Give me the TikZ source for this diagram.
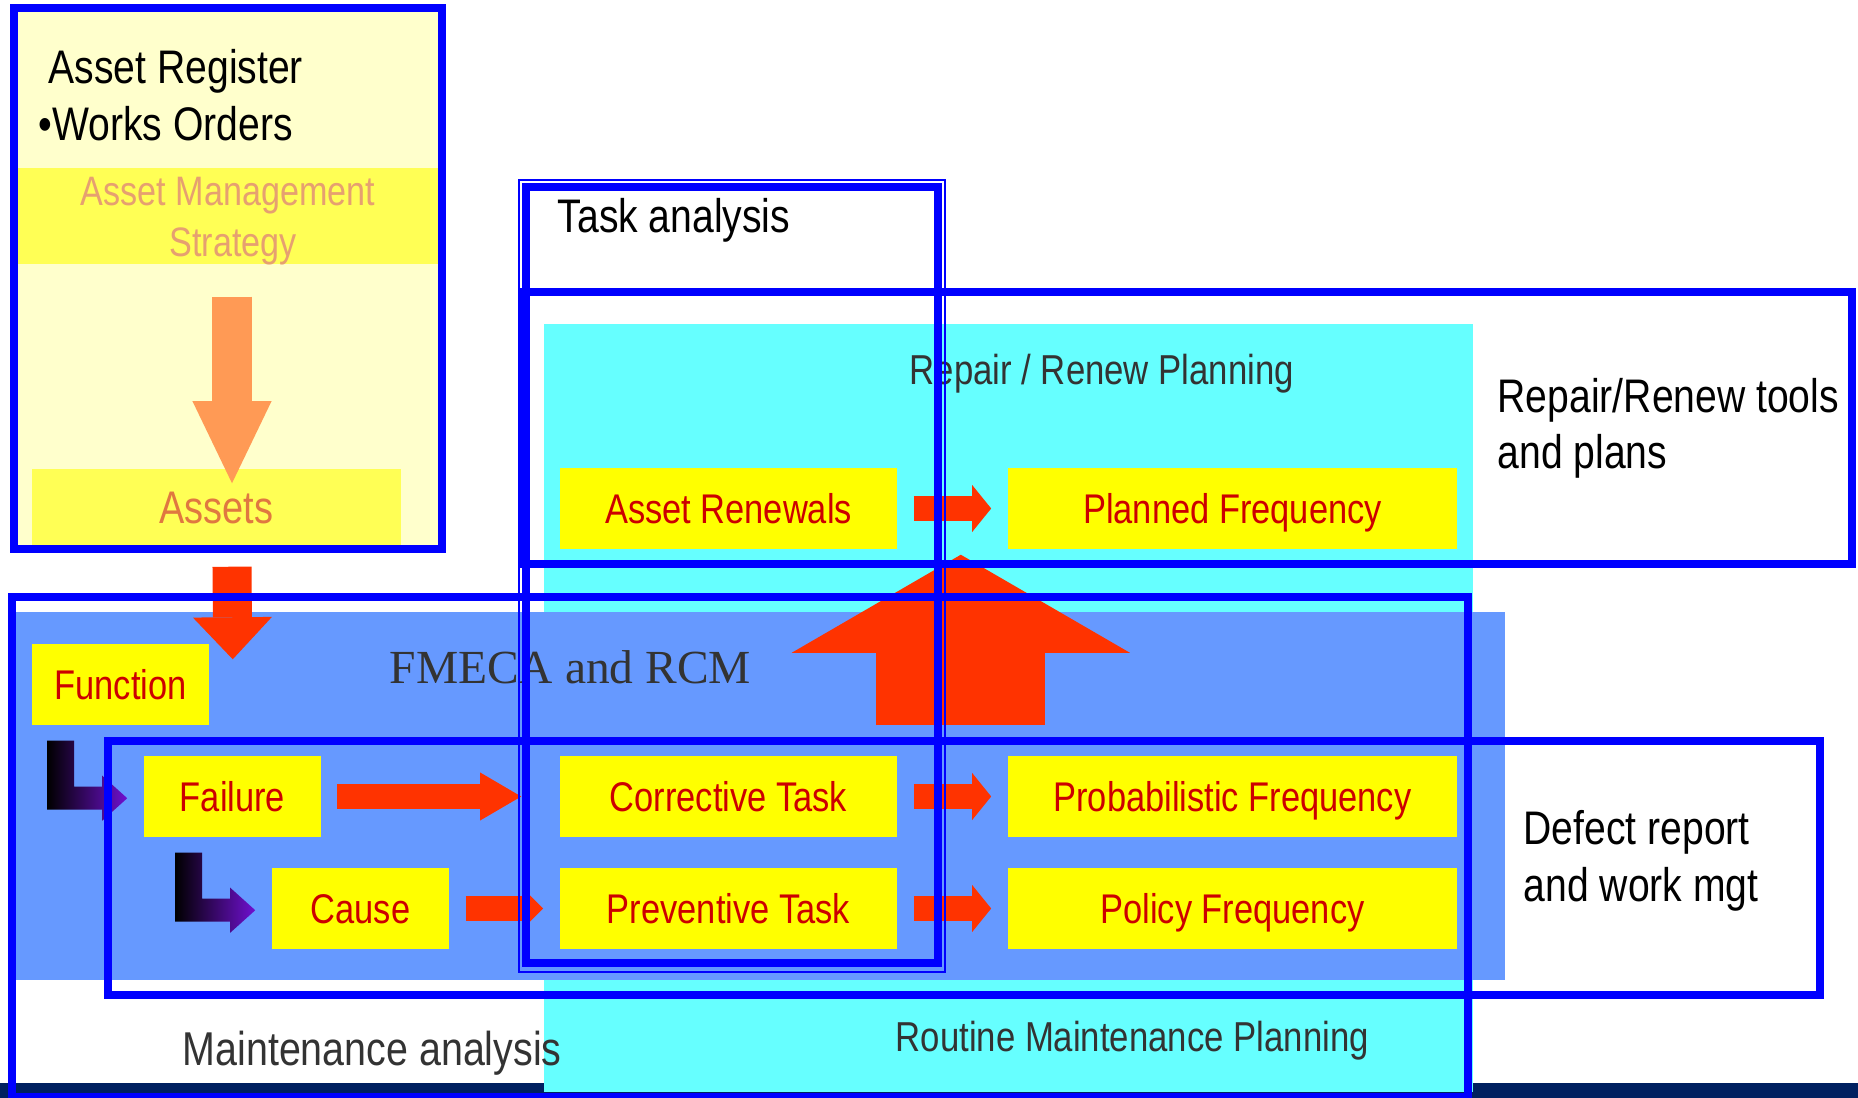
\documentclass[tikz,border=0pt]{standalone}
\usepackage{fontspec}
\setmainfont{Liberation Sans}
\newfontfamily\narrowsans[FakeStretch=0.83]{Liberation Sans}
\newfontfamily\serifface{Liberation Serif}
\usetikzlibrary{arrows.meta,calc}

\definecolor{lineblue}{HTML}{0000FF}
\definecolor{paleyellow}{HTML}{FFFFCC}
\definecolor{bandyellow}{HTML}{FFFF55}
\definecolor{cellyellow}{HTML}{FFFF00}
\definecolor{cellred}{HTML}{CC0000}
\definecolor{plancyan}{HTML}{66FFFF}
\definecolor{fmecablue}{HTML}{6699FF}
\definecolor{arrowred}{HTML}{FF3300}
\definecolor{arroworange}{HTML}{FF9A55}
\definecolor{strategytan}{HTML}{E6A070}
\definecolor{assetsorange}{HTML}{E07840}
\definecolor{textgray}{HTML}{333333}
\definecolor{navybar}{HTML}{002060}
\definecolor{turnblue}{HTML}{1818B0}
\definecolor{turnpurple}{HTML}{7010D0}

\begin{document}
\begin{tikzpicture}
    [ x=0.01cm, y=-0.01cm
    , every node/.style={inner sep=0pt}
    , frame/.style={draw=lineblue, line width=0.08cm}
    , thinframe/.style={draw=lineblue, line width=0.025cm}
    , cell/.style={fill=cellyellow, text=cellred, minimum height=0.81cm, text height=8.4pt, text depth=0pt, font=\narrowsans\fontsize{11.8pt}{14pt}\selectfont}
    , narrowcell/.style={cell, minimum width=1.77cm}
    , midcell/.style={cell, minimum width=3.37cm}
    , widecell/.style={cell, minimum width=4.49cm}
    , band/.style={fill=bandyellow}
    , heading/.style={anchor=base west, font=\narrowsans\fontsize{13.4pt}{16pt}\selectfont}
    , planlabel/.style={anchor=base west, text=textgray, font=\narrowsans\fontsize{11.9pt}{14pt}\selectfont}
    , strategy/.style={anchor=base, text=strategytan, font=\narrowsans\fontsize{11.7pt}{14pt}\selectfont}
    , redarrow/.style={draw=arrowred, line width=0.24cm}
    , turnarrow/.pic={\shade[left color=black, middle color=turnblue, right color=turnpurple]
        (0,0) -- (27,0) -- (27,46) -- (55,46) -- (55,35) -- (80,57.5) -- (55,80) -- (55,69) -- (0,69) -- cycle;}
    ]

    \useasboundingbox (0,0) rectangle (1858,1098);

    % backgrounds
    \fill[navybar] (0,1083) rectangle (1858,1098);
    \fill[paleyellow] (14,8) rectangle (442,549);
    \node[band, minimum width=4.2cm, minimum height=0.96cm] (ams) at (228,216) {};
    \node[band, minimum width=3.69cm, minimum height=0.77cm, text=assetsorange, text height=9.3pt, text depth=0pt,
          font=\narrowsans\fontsize{13pt}{15pt}\selectfont] (assets) at (216.5,507.5) {Assets};
    \fill[plancyan] (544,324) rectangle (1473,1092);
    \fill[fmecablue] (16,612) rectangle (1505,980);

    % cells
    \node[narrowcell] (fn)    at (120.5,684.5)  {Function};
    \node[narrowcell] (fail)  at (232.5,796.5)  {Failure};
    \node[narrowcell] (cause) at (360.5,908.5)  {Cause};
    \node[midcell]    (ren)   at (728.5,508.5)  {Asset Renewals};
    \node[midcell]    (corr)  at (728.5,796.5)  {Corrective Task};
    \node[midcell]    (prev)  at (728.5,908.5)  {Preventive Task};
    \node[widecell]   (plan)  at (1232.5,508.5) {Planned Frequency};
    \node[widecell]   (prob)  at (1232.5,796.5) {Probabilistic Frequency};
    \node[widecell]   (pol)   at (1232.5,908.5) {Policy Frequency};

    % block arrows
    \draw[draw=arroworange, line width=0.39cm, -{Triangle[length=0.82cm, width=0.79cm, line width=0pt]}]
        ($(ams.south)+(4,32)$) -- ($(assets.north)+(15.5,15)$);
    \draw[redarrow, line width=0.39cm, -{Triangle[length=0.42cm, width=0.79cm, line width=0pt]}]
        ($(assets.south)+(15.5,20)$) -- ($(fn.north east)+(23,16)$);
    \draw[redarrow, line width=1.69cm, -{Triangle[length=0.98cm, width=3.38cm, line width=0pt]}]
        ($(corr.north east)+(63,-30)$) -- ($(ren.south east)+(63,5)$);
    \draw[redarrow, shorten <=0.15cm, shorten >=0.38cm, -{Triangle[length=0.41cm, width=0.48cm, line width=0pt]}] (fail) -- (corr);
    \draw[redarrow, shorten <=0.16cm, shorten >=0.16cm, -{Triangle[length=0.18cm, width=0.36cm, line width=0pt]}] (cause) -- (prev);
    \foreach \from/\to in {ren/plan, corr/prob, prev/pol}
        \draw[redarrow, shorten <=0.16cm, shorten >=0.16cm, -{Triangle[length=0.19cm, width=0.47cm, line width=0pt]}] (\from) -- (\to);

    % texts
    \node[heading] (reg)    at (48,84)    {Asset Register};
    \node[heading] (works)  at (38,141)   {•Works Orders};
    \node[strategy] (amsa)  at (228,206)  {Asset Management};
    \node[strategy] (amsb)  at (233,257)  {Strategy};
    \node[heading] (task)   at (557,233)  {Task analysis};
    \node[heading] (tools)  at (1497,413) {Repair/Renew tools};
    \node[heading] (plans)  at (1497,469) {and plans};
    \node[heading] (defect) at (1523,844) {Defect report};
    \node[heading] (mgt)    at (1523,901) {and work mgt};
    \node[planlabel] (rrplan)  at (909,385)  {Repair / Renew Planning};
    \node[planlabel] (routine) at (895,1051) {Routine Maintenance Planning};
    \node[planlabel, font=\narrowsans\fontsize{13.5pt}{16pt}\selectfont] (mainan) at (182,1065) {Maintenance analysis};
    \node[anchor=base west, text=textgray, font=\serifface\fontsize{13.5pt}{16pt}\selectfont] (fmeca) at (389,684) {FMECA and RCM};

    % turn arrows
    \pic at ($(fn.south west)+(16,15)$) {turnarrow};
    \pic at ($(fail.south west)+(32,15)$) {turnarrow};

    % frames
    \draw[frame] (14,8) rectangle (442,549);
    \draw[frame] (524,292) rectangle (1852,564);
    \draw[frame] (12,597) rectangle (1468,1097);
    \draw[frame] (108,741) rectangle (1820,995);
    \draw[frame] (526,187) rectangle (938,963);
    \draw[thinframe] (519,180) rectangle (945,972);

\end{tikzpicture}
\end{document}
